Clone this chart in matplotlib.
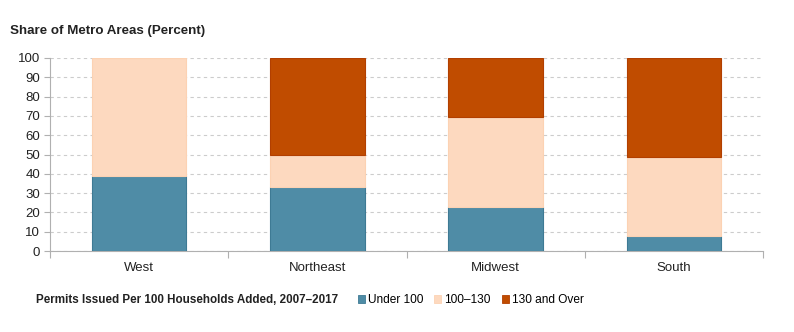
import numpy as np
import matplotlib.pyplot as plt
from matplotlib.patches import Patch

plt.rcParams['font.family'] = ['Liberation Sans', 'DejaVu Sans']

# Share of metro areas by region, per permits-per-household bracket
regions = ['West', 'Northeast', 'Midwest', 'South']
under_100 = [39, 33.3, 23, 8]
mid_100_130 = [61, 16.7, 46.3, 40.5]
over_130 = [0, 50, 30.7, 51.5]
series_labels = ['Under 100', '100\u2013130', '130 and Over']
colors = ['#4F8CA6', '#FDD9BF', '#C04C00']
edges = ['#3E7A94', '#FCD2B3', '#B23F00']

fig = plt.figure(figsize=(7.94, 3.32), dpi=100)
ax = fig.add_axes([50 / 794, 1 - 251 / 332, 713 / 794, 193 / 332])

x = np.arange(len(regions))
bottom = np.zeros(len(regions))
for vals, c, ec in zip([under_100, mid_100_130, over_130], colors, edges):
    vals = np.array(vals, dtype=float)
    keep = vals > 0
    ax.bar(x[keep], vals[keep], width=0.53, bottom=bottom[keep], color=c,
           edgecolor=ec, linewidth=0.8, zorder=3)
    bottom += vals

ax.set_xlim(-0.5, len(regions) - 0.5)
ax.set_ylim(0, 100)
ax.set_yticks(np.arange(0, 101, 10))
ax.yaxis.grid(True, linestyle=(0, (3, 3)), color='#cccccc', linewidth=0.8, zorder=0)

# category labels centred, separator ticks at boundaries
ax.set_xticks(x)
ax.set_xticklabels(regions)
ax.set_xticks(np.arange(-0.5, len(regions)), minor=True)
ax.tick_params(axis='x', which='major', length=0, pad=8, labelsize=9.5, labelcolor='#222222')
ax.tick_params(axis='x', which='minor', length=5, color='#b0b0b0', width=0.8)
ax.tick_params(axis='y', length=4, color='#b0b0b0', width=0.8, labelsize=9.5,
               labelcolor='#222222', pad=3)

for side in ['top', 'right']:
    ax.spines[side].set_visible(False)
for side in ['left', 'bottom']:
    ax.spines[side].set_color('#b0b0b0')
    ax.spines[side].set_linewidth(0.8)

fig.text(10 / 794, 1 - 31 / 332, 'Share of Metro Areas (Percent)', fontsize=9.6,
         fontweight='bold', color='#222222', va='center')
fig.text(36 / 794, 1 - 300 / 332, 'Permits Issued Per 100 Households Added, 2007\u20132017',
         fontsize=8.4, fontweight='bold', color='#222222', va='center')

handles = [Patch(facecolor=c, edgecolor=ec, linewidth=0.6) for c, ec in zip(colors, edges)]
fig.legend(handles, series_labels, loc='center left',
           bbox_to_anchor=(358 / 794, 1 - 300 / 332), ncol=3, frameon=False,
           fontsize=8.6, handlelength=0.6, handleheight=0.6, handletextpad=0.25,
           columnspacing=0.9, borderaxespad=0, borderpad=0)

fig.savefig('out.png', dpi=100)
